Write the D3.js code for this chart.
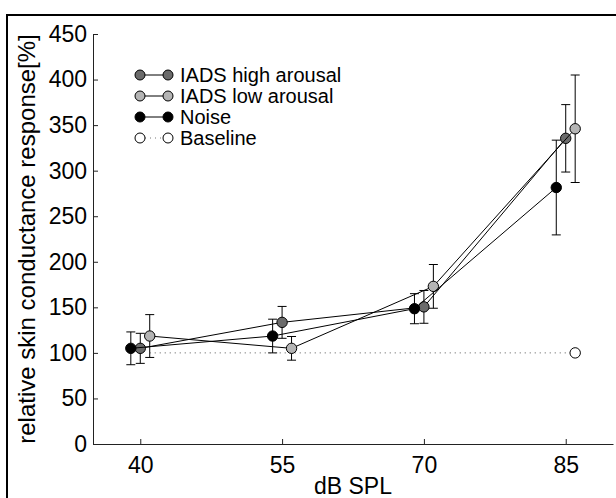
<!DOCTYPE html>
<html lang="en">
<head>
    <meta charset="UTF-8">
    <title>Skin conductance</title>
    <script src="https://d3js.org/d3.v7.min.js"></script>
    <style>
        body { margin: 0; background: white; }
        svg { display: block; font-family: "Liberation Sans", Arial, sans-serif; }
    </style>
</head>
<body>
    <svg id="chart" width="616" height="498"></svg>
    <script>
        // data
        var levels = [40, 55, 70, 85];
        var yTicks = [0, 50, 100, 150, 200, 250, 300, 350, 400, 450];

        var highMean = [105, 133.5, 150.5, 335.5];
        var highErr = [16.5, 17.5, 18, 37];
        var lowMean = [118.5, 105, 173, 346];
        var lowErr = [23.5, 13, 24, 59];
        var noiseMean = [105, 118.5, 148.5, 281.5];
        var noiseErr = [18, 18.5, 16.5, 52];
        var baseX = [40, 85];
        var baseMean = [100, 100];
        var baseErr = [0, 0];

        var seriesNames = ["IADS high arousal", "IADS low arousal", "Noise", "Baseline"];

        var svg = d3.select("#chart");

        // outer frame (runs off the right and bottom edge)
        svg.append("rect")
            .attr("x", 7).attr("y", 15)
            .attr("width", 700).attr("height", 600)
            .attr("fill", "none").attr("stroke", "black").attr("stroke-width", 2);

        var pLeft = 93, pRight = 613, pTop = 34, pBottom = 444;
        var x = d3.scaleLinear().domain([35, 90]).range([pLeft, pRight]);
        var y = d3.scaleLinear().domain([0, 450]).range([pBottom, pTop]);
        var dodge = 1.0; // dB shift so the points dont sit on each other

        // axes, ticks pointing inwards
        var yAxis = d3.axisLeft(y).tickValues(yTicks).tickSizeInner(-5).tickSizeOuter(0).tickPadding(6);
        var xAxis = d3.axisBottom(x).tickValues(levels).tickSizeInner(-5).tickSizeOuter(0).tickPadding(8);

        var gy = svg.append("g").attr("transform", "translate(" + pLeft + ",0)").call(yAxis);
        var gx = svg.append("g").attr("transform", "translate(0," + pBottom + ")").call(xAxis);
        [gx, gy].forEach(function (g) {
            g.selectAll("path, line").attr("stroke", "#222");
            g.selectAll("text").attr("font-size", 23).attr("fill", "black")
                .attr("font-family", "Liberation Sans, Arial, sans-serif");
        });
        gx.selectAll("text").attr("dy", "0.9em");

        // axis titles
        svg.append("text")
            .attr("x", (pLeft + pRight) / 2).attr("y", 494)
            .attr("text-anchor", "middle").attr("font-size", 23)
            .text("dB SPL");
        svg.append("text")
            .attr("transform", "translate(35," + ((pTop + pBottom) / 2) + ") rotate(-90)")
            .attr("text-anchor", "middle").attr("font-size", 24)
            .text("relative skin conductance response[%]");

        function makeSeries(xs, means, errs, shift) {
            return xs.map(function (v, i) {
                return { x: v + shift, m: means[i], e: errs[i] };
            });
        }

        var series = [
            { pts: makeSeries(levels, highMean, highErr, 0), fill: "#6b6b6b", dash: null, markAll: true },
            { pts: makeSeries(levels, lowMean, lowErr, dodge), fill: "#b4b4b4", dash: null, markAll: true },
            { pts: makeSeries(levels, noiseMean, noiseErr, -dodge), fill: "black", dash: null, markAll: true },
            { pts: makeSeries(baseX, baseMean, baseErr, dodge), fill: "white", dash: "1,4", markAll: false }
        ];

        var line = d3.line().x(function (d) { return x(d.x); }).y(function (d) { return y(d.m); });
        var cap = 4.5;

        series.forEach(function (s) {
            var g = svg.append("g");
            g.append("path")
                .attr("d", line(s.pts))
                .attr("fill", "none")
                .attr("stroke", s.dash ? "#555" : "black")
                .attr("stroke-width", 1)
                .attr("stroke-dasharray", s.dash);

            var bars = s.markAll ? s.pts : s.pts.slice(-1);
            //error bars
            var eb = g.selectAll("g.eb").data(bars).enter().append("g");
            eb.append("line")
                .attr("x1", function (d) { return x(d.x); }).attr("x2", function (d) { return x(d.x); })
                .attr("y1", function (d) { return y(d.m - d.e); }).attr("y2", function (d) { return y(d.m + d.e); })
                .attr("stroke", "black");
            [-1, 1].forEach(function (sg) {
                eb.append("line")
                    .attr("x1", function (d) { return x(d.x) - cap; }).attr("x2", function (d) { return x(d.x) + cap; })
                    .attr("y1", function (d) { return y(d.m + sg * d.e); }).attr("y2", function (d) { return y(d.m + sg * d.e); })
                    .attr("stroke", "black");
            });

            g.selectAll("circle").data(bars).enter().append("circle")
                .attr("cx", function (d) { return x(d.x); })
                .attr("cy", function (d) { return y(d.m); })
                .attr("r", 5.2)
                .attr("fill", s.fill)
                .attr("stroke", "black").attr("stroke-width", 1);
        });

        // legend
        var legend = svg.append("g").attr("transform", "translate(140,75)");
        var rows = legend.selectAll("g").data(series).enter().append("g")
            .attr("transform", function (d, i) { return "translate(0," + (i * 21) + ")"; });
        rows.append("line")
            .attr("x1", 0).attr("x2", 28).attr("y1", 0).attr("y2", 0)
            .attr("stroke", function (d) { return d.dash ? "#777" : "black"; })
            .attr("stroke-dasharray", function (d) { return d.dash; });
        [0, 28].forEach(function (cx) {
            rows.append("circle")
                .attr("cx", cx).attr("cy", 0).attr("r", 5)
                .attr("fill", function (d) { return d.fill; })
                .attr("stroke", "black");
        });
        rows.append("text")
            .attr("x", 40).attr("y", 0).attr("dy", "0.36em")
            .attr("font-size", 20)
            .text(function (d, i) { return seriesNames[i]; });
    </script>
</body>
</html>
